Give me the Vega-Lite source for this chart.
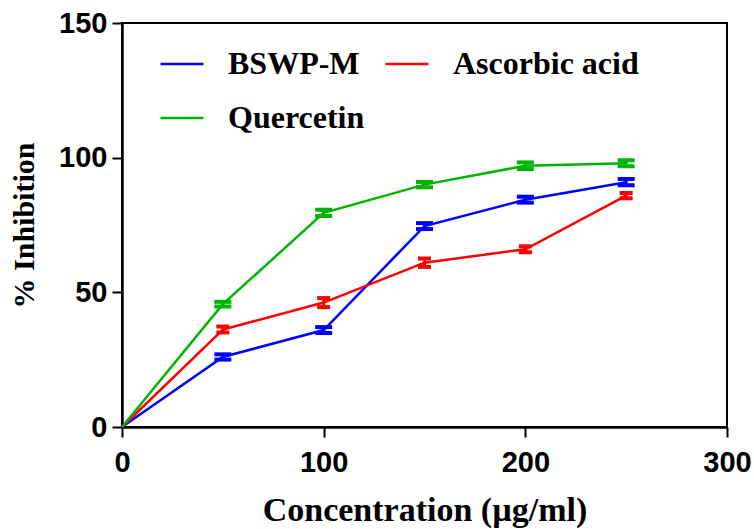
{
  "$schema": "https://vega.github.io/schema/vega-lite/v6.json",
  "width": 605,
  "height": 404,
  "autosize": {"type": "none"},
  "padding": {"left": 122, "top": 23, "right": 27, "bottom": 102},
  "background": "white",
  "config": {
    "view": {"stroke": "black", "strokeWidth": 2},
    "tick": {"opacity": 1},
    "axis": {
      "grid": false,
      "domainColor": "black",
      "domainWidth": 2.5,
      "tickColor": "black",
      "tickWidth": 2,
      "tickSize": 10,
      "labelFlush": false,
      "labelFont": "Liberation Sans",
      "labelFontWeight": "bold",
      "labelFontSize": 29,
      "labelColor": "black",
      "titleFont": "Liberation Serif",
      "titleFontWeight": "bold",
      "titleColor": "black"
    }
  },
  "data": {
    "values": [
      {"conc": 0, "pct": 0, "sd": 0, "series": "BSWP-M"},
      {"conc": 50, "pct": 26.0, "sd": 0.98, "series": "BSWP-M"},
      {"conc": 100, "pct": 36.0, "sd": 1.1, "series": "BSWP-M"},
      {"conc": 150, "pct": 74.6, "sd": 1.1, "series": "BSWP-M"},
      {"conc": 200, "pct": 84.4, "sd": 1.1, "series": "BSWP-M"},
      {"conc": 250, "pct": 90.9, "sd": 1.17, "series": "BSWP-M"},
      {"conc": 0, "pct": 0, "sd": 0, "series": "Ascorbic acid"},
      {"conc": 50, "pct": 36.2, "sd": 1.1, "series": "Ascorbic acid"},
      {"conc": 100, "pct": 46.2, "sd": 1.67, "series": "Ascorbic acid"},
      {"conc": 150, "pct": 61.0, "sd": 1.56, "series": "Ascorbic acid"},
      {"conc": 200, "pct": 66.0, "sd": 1.1, "series": "Ascorbic acid"},
      {"conc": 250, "pct": 85.9, "sd": 0.98, "series": "Ascorbic acid"},
      {"conc": 0, "pct": 0, "sd": 0, "series": "Quercetin"},
      {"conc": 50, "pct": 45.6, "sd": 0.87, "series": "Quercetin"},
      {"conc": 100, "pct": 79.5, "sd": 1.17, "series": "Quercetin"},
      {"conc": 150, "pct": 90.0, "sd": 0.98, "series": "Quercetin"},
      {"conc": 200, "pct": 97.0, "sd": 1.24, "series": "Quercetin"},
      {"conc": 250, "pct": 97.9, "sd": 1.1, "series": "Quercetin"}
    ]
  },
  "encoding": {
    "x": {
      "field": "conc",
      "type": "quantitative",
      "scale": {"domain": [0, 300], "nice": false},
      "axis": {
        "title": "Concentration (µg/ml)",
        "values": [0, 100, 200, 300],
        "labelPadding": 11,
        "titleFontSize": 34,
        "titlePadding": 16
      }
    },
    "y": {
      "field": "pct",
      "type": "quantitative",
      "scale": {"domain": [0, 150], "nice": false},
      "axis": {
        "title": "% Inhibition",
        "values": [0, 50, 100, 150],
        "labelPadding": 5,
        "titleFontSize": 30,
        "titlePadding": 19
      }
    }
  },
  "layer": [
    {
      "mark": {"type": "line", "strokeWidth": 2.5},
      "encoding": {
        "color": {
          "field": "series",
          "type": "nominal",
          "scale": {
            "domain": ["BSWP-M", "Ascorbic acid", "Quercetin"],
            "range": ["#0000FF", "#FF0000", "#00B400"]
          },
          "legend": {
            "title": null,
            "orient": "none",
            "legendX": 37,
            "legendY": 18,
            "direction": "horizontal",
            "columns": 2,
            "padding": 0,
            "symbolType": "stroke",
            "symbolSize": 1849,
            "symbolStrokeWidth": 2.5,
            "labelFont": "Liberation Serif",
            "labelFontWeight": "bold",
            "labelFontSize": 32,
            "labelColor": "black",
            "labelOffset": 23,
            "columnPadding": 15,
            "rowPadding": 15,
            "labelLimit": 400
          }
        }
      }
    },
    {
      "transform": [{"filter": "datum.conc > 0 && datum.series != 'Ascorbic acid'"}],
      "mark": {"type": "errorbar", "thickness": 4, "ticks": {"size": 17, "thickness": 4, "opacity": 1}, "rule": {"strokeWidth": 3, "opacity": 1}},
      "encoding": {
        "yError": {"field": "sd"},
        "color": {"field": "series", "type": "nominal", "legend": null}
      }
    },
    {
      "transform": [{"filter": "datum.conc > 0 && datum.series == 'Ascorbic acid'"}],
      "mark": {"type": "errorbar", "thickness": 4, "ticks": {"size": 13, "thickness": 4, "opacity": 1}, "rule": {"strokeWidth": 3, "opacity": 1}},
      "encoding": {
        "yError": {"field": "sd"},
        "color": {"field": "series", "type": "nominal", "legend": null}
      }
    }
  ]
}
